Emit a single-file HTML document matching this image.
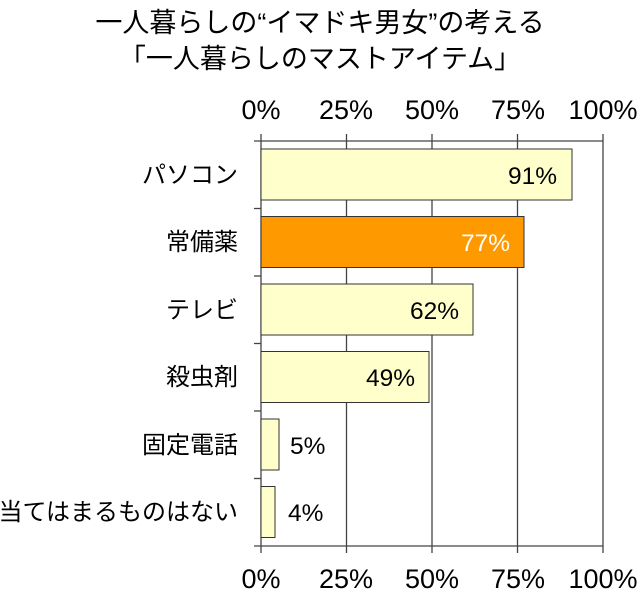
<!DOCTYPE html>
<html><head><meta charset="utf-8"><style>
html,body{margin:0;padding:0;background:#fff;}
body{width:640px;height:591px;overflow:hidden;}
svg text{font-family:"Liberation Sans","Noto Sans CJK JP",sans-serif;}
</style></head><body>
<svg width="640" height="591" viewBox="0 0 640 591" xmlns="http://www.w3.org/2000/svg">
<text x="320" y="32" font-size="27" text-anchor="middle" fill="#000">一人暮らしの“イマドキ男女”の考える</text>
<text x="320" y="68" font-size="27" text-anchor="middle" fill="#000">「一人暮らしのマストアイテム」</text>
<g font-size="27" fill="#000" text-anchor="middle">
<text x="261" y="119">0%</text><text x="346" y="119">25%</text><text x="432" y="119">50%</text><text x="518" y="119">75%</text><text x="603" y="119">100%</text>
<text x="261" y="588">0%</text><text x="346" y="588">25%</text><text x="432" y="588">50%</text><text x="518" y="588">75%</text><text x="603" y="588">100%</text>
</g>
<g stroke="#444" stroke-width="1.3" fill="none">
<line x1="261" y1="134" x2="261" y2="553"/>
<line x1="346.5" y1="134" x2="346.5" y2="553"/>
<line x1="432" y1="134" x2="432" y2="553"/>
<line x1="517.5" y1="134" x2="517.5" y2="553"/>
<line x1="603" y1="134" x2="603" y2="553"/>
<line x1="254" y1="141" x2="603" y2="141"/>
<line x1="254" y1="546" x2="603" y2="546"/>
<line x1="254" y1="208.5" x2="261" y2="208.5"/>
<line x1="254" y1="276" x2="261" y2="276"/>
<line x1="254" y1="343.5" x2="261" y2="343.5"/>
<line x1="254" y1="411" x2="261" y2="411"/>
<line x1="254" y1="478.5" x2="261" y2="478.5"/>
</g>
<g stroke="#333" stroke-width="1">
<rect x="261" y="149" width="311" height="51" fill="#FFFFCC"/>
<rect x="261" y="216.5" width="263" height="51" fill="#FF9900"/>
<rect x="261" y="284" width="212" height="51" fill="#FFFFCC"/>
<rect x="261" y="351.5" width="168" height="51" fill="#FFFFCC"/>
<rect x="261" y="419" width="18" height="51" fill="#FFFFCC"/>
<rect x="261" y="486.5" width="14" height="51" fill="#FFFFCC"/>
</g>
<g font-size="24.5">
<text x="557" y="184" text-anchor="end" fill="#000">91%</text>
<text x="510" y="251" text-anchor="end" fill="#fff">77%</text>
<text x="459" y="319" text-anchor="end" fill="#000">62%</text>
<text x="415" y="386" text-anchor="end" fill="#000">49%</text>
<text x="290" y="454" fill="#000">5%</text>
<text x="288" y="521" fill="#000">4%</text>
</g>
<g font-size="24" text-anchor="end" fill="#000">
<text x="238" y="183">パソコン</text>
<text x="238" y="250">常備薬</text>
<text x="238" y="318">テレビ</text>
<text x="238" y="385">殺虫剤</text>
<text x="238" y="453">固定電話</text>
<text x="238" y="520">当てはまるものはない</text>
</g>
</svg>
</body></html>
